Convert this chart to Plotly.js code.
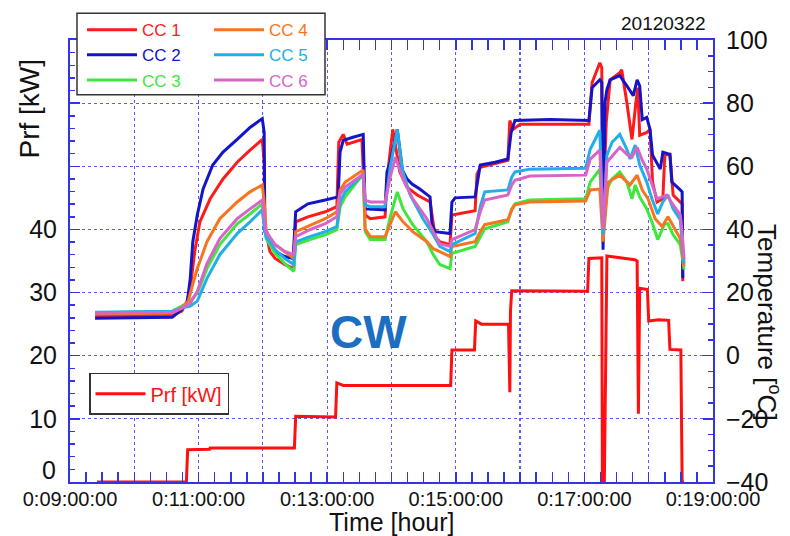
<!DOCTYPE html>
<html>
<head>
<meta charset="utf-8">
<script src="https://cdn.plot.ly/plotly-3.0.1.min.js"></script>
<style>html,body{margin:0;padding:0;background:#fff;}#chart{width:790px;height:536px;}</style>
</head>
<body>
<div id="chart"></div>
<script>
// ---- data: [time (hour), value] ----
const xTickVals = [9,10,11,12,13,14,15,16,17,18,19];
const xTickText = ['0:09:00:00','','0:11:00:00','','0:13:00:00','','0:15:00:00','','0:17:00:00','','0:19:00:00'];
const seriesNames = ['CC 1','CC 2','CC 3','CC 4','CC 5','CC 6'];

const cc1 = [[9.39,12.5],[10.59,12.8],[10.74,14.1],[10.82,17.3],[10.87,21.4],[10.94,33.0],[11.02,42.4],[11.18,49.7],[11.38,56.0],[11.60,61.3],[11.80,65.1],[11.99,68.5],[12.02,61.3],[12.03,40.9],[12.11,33.0],[12.19,30.8],[12.34,28.9],[12.48,27.6],[12.51,42.4],[12.70,44.0],[12.97,45.6],[13.15,47.2],[13.18,67.6],[13.25,70.1],[13.31,67.0],[13.40,67.6],[13.54,68.5],[13.59,44.6],[13.67,43.4],[13.90,44.0],[13.93,56.0],[14.02,71.7],[14.13,58.2],[14.24,53.4],[14.40,50.9],[14.60,48.7],[14.63,44.0],[14.68,37.7],[14.75,36.1],[14.91,35.2],[14.94,44.6],[15.30,45.9],[15.33,57.5],[15.38,59.7],[15.81,61.9],[15.84,74.5],[15.89,71.7],[16.00,73.3],[17.02,73.3],[17.07,73.3],[17.12,86.5],[17.18,89.6],[17.24,92.8],[17.27,91.2],[17.29,45.0],[17.34,73.9],[17.40,87.4],[17.55,89.6],[17.58,90.6],[17.66,80.2],[17.74,68.5],[17.80,80.0],[17.83,84.9],[17.86,69.8],[17.97,70.7],[18.02,71.7],[18.06,55.0],[18.13,48.7],[18.22,49.7],[18.25,63.5],[18.33,63.8],[18.38,50.9],[18.52,48.1],[18.53,23.6]];
const cc2 = [[9.39,11.9],[10.59,12.2],[10.71,14.1],[10.82,16.3],[10.87,24.5],[10.91,36.1],[10.98,44.6],[11.07,52.8],[11.22,60.4],[11.38,64.5],[11.60,68.5],[11.80,72.3],[11.99,75.1],[12.02,70.7],[12.03,39.3],[12.19,33.0],[12.34,31.4],[12.47,30.8],[12.51,45.6],[12.70,48.1],[12.97,49.3],[13.17,50.3],[13.20,64.5],[13.25,68.2],[13.40,69.2],[13.56,70.1],[13.59,46.5],[13.90,46.2],[13.93,58.2],[13.98,61.3],[14.09,71.7],[14.17,58.8],[14.24,56.0],[14.32,54.4],[14.44,52.8],[14.60,50.3],[14.63,41.5],[14.68,39.3],[14.91,38.7],[14.94,48.7],[14.99,50.0],[15.30,50.3],[15.35,56.6],[15.38,60.4],[15.61,61.3],[15.81,62.3],[15.86,70.7],[15.92,74.5],[16.47,74.8],[17.02,74.5],[17.07,74.5],[17.12,84.9],[17.24,87.4],[17.27,86.5],[17.29,33.6],[17.32,80.2],[17.35,84.3],[17.40,87.4],[17.55,88.7],[17.66,85.5],[17.76,82.4],[17.82,87.4],[17.86,85.5],[17.90,74.8],[17.97,75.5],[18.02,71.7],[18.06,63.5],[18.18,59.1],[18.22,64.5],[18.33,63.8],[18.36,55.0],[18.49,52.5],[18.52,51.9],[18.53,24.5]];
const cc3 = [[9.39,13.5],[10.59,14.1],[10.74,15.7],[10.87,17.3],[10.98,19.8],[11.13,27.6],[11.33,35.2],[11.60,41.8],[11.80,44.9],[11.99,48.1],[12.02,42.4],[12.05,37.1],[12.19,32.4],[12.34,29.2],[12.48,26.7],[12.51,35.2],[12.73,36.8],[12.97,38.3],[13.15,39.9],[13.20,47.2],[13.28,50.3],[13.56,57.5],[13.59,39.3],[13.67,36.8],[13.90,36.8],[13.98,44.0],[14.09,51.9],[14.18,46.5],[14.33,41.5],[14.55,36.1],[14.65,32.0],[14.75,28.9],[14.91,27.6],[14.94,32.4],[15.30,34.6],[15.38,37.7],[15.45,40.2],[15.81,42.4],[15.87,46.5],[15.92,48.1],[16.15,49.3],[17.02,49.7],[17.09,55.0],[17.24,59.1],[17.29,37.7],[17.35,52.8],[17.43,56.0],[17.55,58.2],[17.66,55.0],[17.74,49.7],[17.79,54.1],[17.86,50.3],[17.97,46.5],[18.05,42.4],[18.14,36.8],[18.25,41.8],[18.30,41.8],[18.38,38.3],[18.49,35.2],[18.52,31.4],[18.55,27.3]];
const cc4 = [[9.39,13.2],[10.59,13.5],[10.74,15.1],[10.84,17.3],[10.90,22.0],[10.98,27.6],[11.13,36.1],[11.33,43.4],[11.60,48.7],[11.80,51.9],[11.99,54.1],[12.02,48.7],[12.05,39.9],[12.11,37.1],[12.19,35.2],[12.34,33.0],[12.48,30.8],[12.51,39.3],[12.73,41.2],[12.97,43.4],[13.15,45.6],[13.20,52.5],[13.28,55.0],[13.56,58.8],[13.59,40.2],[13.67,37.7],[13.90,37.7],[13.98,41.8],[14.06,45.6],[14.18,42.4],[14.33,39.3],[14.55,36.1],[14.65,33.9],[14.75,33.0],[14.91,31.4],[14.94,34.6],[15.30,36.1],[15.38,39.3],[15.45,41.5],[15.81,43.1],[15.87,46.2],[15.92,47.8],[16.15,48.7],[17.02,49.0],[17.09,52.5],[17.24,52.8],[17.29,36.1],[17.37,55.0],[17.55,57.2],[17.71,54.1],[17.82,57.2],[17.90,52.5],[17.99,49.7],[18.10,43.4],[18.21,40.9],[18.30,44.0],[18.41,40.2],[18.49,37.1],[18.52,33.0],[18.55,28.3]];
const cc5 = [[9.39,13.8],[10.59,14.1],[10.74,15.1],[10.87,15.7],[10.98,17.3],[11.13,24.5],[11.33,32.0],[11.60,38.7],[11.80,42.4],[11.99,46.2],[12.02,40.9],[12.05,37.7],[12.19,33.6],[12.34,30.8],[12.48,28.9],[12.51,36.1],[12.73,37.7],[12.97,39.3],[13.15,40.9],[13.20,48.7],[13.28,51.9],[13.56,57.5],[13.59,47.8],[13.67,47.2],[13.90,47.2],[13.98,59.7],[14.09,71.7],[14.17,58.8],[14.29,50.9],[14.49,43.4],[14.65,38.3],[14.75,34.6],[14.91,33.0],[14.94,35.2],[15.30,38.7],[15.38,47.2],[15.45,51.9],[15.81,52.5],[15.87,56.6],[15.92,58.2],[16.15,59.1],[17.02,59.4],[17.09,65.4],[17.24,71.4],[17.29,38.3],[17.35,63.5],[17.43,67.6],[17.55,70.1],[17.66,65.4],[17.71,62.3],[17.79,66.7],[17.86,60.4],[17.97,55.0],[18.05,49.7],[18.14,44.9],[18.22,48.7],[18.30,50.9],[18.38,46.5],[18.49,43.1],[18.52,36.1],[18.55,29.2]];
const cc6 = [[9.39,13.5],[10.59,13.8],[10.74,15.1],[10.87,16.6],[10.98,20.4],[11.13,29.2],[11.33,37.1],[11.60,43.4],[11.80,46.5],[11.99,49.3],[12.02,44.0],[12.05,39.3],[12.19,35.2],[12.34,33.0],[12.48,32.0],[12.51,37.7],[12.73,39.9],[12.97,41.8],[13.15,44.0],[13.20,51.2],[13.28,53.4],[13.56,57.5],[13.59,49.3],[13.67,48.7],[13.90,48.7],[13.98,56.6],[14.06,62.9],[14.18,56.0],[14.33,49.7],[14.55,43.4],[14.65,39.3],[14.75,35.5],[14.91,34.6],[14.94,36.8],[15.30,39.9],[15.38,45.6],[15.45,49.3],[15.81,50.9],[15.87,54.1],[15.92,55.6],[16.15,56.9],[17.02,57.2],[17.09,62.3],[17.24,65.1],[17.29,40.2],[17.35,61.3],[17.55,66.0],[17.66,63.8],[17.74,62.9],[17.82,66.0],[17.90,61.9],[17.97,59.1],[18.13,49.7],[18.28,50.9],[18.38,47.8],[18.49,44.6],[18.52,39.3],[18.55,30.5]];
const prf = [[9.42,0],[10.81,0],[10.83,5.1],[11.17,5.2],[11.18,5.4],[12.49,5.4],[12.51,10.4],[13.13,10.3],[13.15,15.7],[13.25,15.3],[14.92,15.3],[14.94,20.9],[15.29,20.9],[15.31,25.5],[15.40,25.0],[15.82,25.0],[15.84,14.2],[15.85,27.0],[15.87,30.3],[17.05,30.2],[17.07,35.4],[17.27,35.5],[17.28,0],[17.31,0],[17.35,35.8],[17.78,35.2],[17.82,35.0],[17.84,10.8],[17.86,30.7],[17.98,30.5],[18.00,25.5],[18.15,25.7],[18.31,25.6],[18.33,21.0],[18.50,20.9],[18.52,0],[18.55,0]];

// ---- styles ----
const FONT = 'Liberation Sans, Arial, Helvetica, sans-serif';
const AX = '#3434e0';
const GRID = '#5a5aff';
const colors = ['#ff1a1a','#1414c8','#3ee63e','#f77420','#22aee8','#d964c8'];
const ccData = [cc1, cc2, cc3, cc4, cc5, cc6];
const legendOf = ['legend','legend','legend','legend2','legend2','legend2'];

const data = ccData.map((d, i) => ({
  type: 'scatter', mode: 'lines',
  x: d.map(p => p[0]), y: d.map(p => p[1]),
  yaxis: 'y2',
  name: '<span style="color:' + colors[i] + '">' + seriesNames[i] + '</span>',
  line: {color: colors[i], width: 3},
  legend: legendOf[i]
}));
data.push({
  type: 'scatter', mode: 'lines',
  x: prf.map(p => p[0]), y: prf.map(p => p[1]),
  yaxis: 'y',
  name: 'Prf [kW]',
  line: {color: '#ff1010', width: 3},
  legend: 'legend3'
});

const px2x = px => (px - 70) / 643;
const py2y = py => (482 - py) / 445;

const layout = {
  width: 790, height: 536,
  margin: {l: 70, r: 77, t: 37, b: 54, pad: 0},
  paper_bgcolor: '#ffffff', plot_bgcolor: '#ffffff',
  font: {family: FONT, color: '#111111'},
  showlegend: true,
  xaxis: {
    range: [9, 19], tickmode: 'array', tickvals: xTickVals, ticktext: xTickText,
    ticks: 'inside', ticklen: 10, tickwidth: 1.5, tickcolor: AX,
    showline: true, linecolor: AX, linewidth: 2, mirror: 'allticks',
    showgrid: true, gridcolor: GRID, griddash: 'dot', gridwidth: 1.2, zeroline: false,
    minor: {tickmode: 'linear', tick0: 9, dtick: 0.25, ticks: 'inside', ticklen: 5, tickwidth: 1.5, tickcolor: AX, showgrid: false},
    tickfont: {family: FONT, size: 20, color: '#111'},
    ticklabelstandoff: -2
  },
  yaxis: {
    range: [0, 70], tickmode: 'array', tickvals: [0,10,20,30,40,50,60,70],
    ticktext: ['', '10', '20', '30', '40', '', '', ''],
    ticks: 'inside', ticklen: 10, tickwidth: 1.5, tickcolor: AX,
    showline: true, linecolor: AX, linewidth: 2, mirror: false,
    showgrid: true, gridcolor: GRID, griddash: 'dot', gridwidth: 1.2, zeroline: false,
    minor: {tickmode: 'linear', tick0: 0, dtick: 2, ticks: 'inside', ticklen: 5, tickwidth: 1.5, tickcolor: AX, showgrid: false},
    tickfont: {family: FONT, size: 25, color: '#111'},
    ticklabelstandoff: 6
  },
  yaxis2: {
    range: [-40, 100], overlaying: 'y', side: 'right', tickmode: 'array',
    tickvals: [-40,-20,0,20,40,60,80,100],
    ticks: 'inside', ticklen: 10, tickwidth: 1.5, tickcolor: AX,
    showline: true, linecolor: AX, linewidth: 2,
    showgrid: false, zeroline: false,
    minor: {tickmode: 'linear', tick0: -40, dtick: 5, ticks: 'inside', ticklen: 5, tickwidth: 1.5, tickcolor: AX, showgrid: false},
    tickfont: {family: FONT, size: 25, color: '#111'},
    ticklabelstandoff: 6
  },
  legend: {
    x: px2x(82), y: py2y(9), xanchor: 'left', yanchor: 'top',
    bgcolor: 'rgba(0,0,0,0)', borderwidth: 0, itemwidth: 50,
    font: {family: FONT, size: 17}, tracegroupgap: 0
  },
  legend2: {
    x: px2x(209), y: py2y(9), xanchor: 'left', yanchor: 'top',
    bgcolor: 'rgba(0,0,0,0)', borderwidth: 0, itemwidth: 50,
    font: {family: FONT, size: 17}, tracegroupgap: 0
  },
  legend3: {
    x: px2x(89), y: py2y(372), xanchor: 'left', yanchor: 'top',
    bgcolor: '#ffffff', bordercolor: '#333333', borderwidth: 1.5, itemwidth: 50,
    font: {family: FONT, size: 20, color: '#ff1010'}
  },
  shapes: [
    {type: 'rect', xref: 'paper', yref: 'paper', x0: px2x(77), x1: px2x(325), y0: py2y(92), y1: py2y(10),
     fillcolor: '#ffffff', line: {color: '#333333', width: 1.5}, layer: 'above'}
  ],
  annotations: [
    {xref: 'paper', yref: 'y', x: px2x(58), y: 0, yshift: 12, xanchor: 'right', yanchor: 'middle',
     text: '0', showarrow: false, font: {family: FONT, size: 25, color: '#111'}},
    {xref: 'paper', yref: 'paper', x: 0.5, y: py2y(522), xanchor: 'center', yanchor: 'middle',
     text: 'Time [hour]', showarrow: false, font: {family: FONT, size: 25, color: '#111'}},
    {xref: 'paper', yref: 'paper', x: px2x(30), y: py2y(106), xanchor: 'center', yanchor: 'middle',
     text: 'Prf [kW]', textangle: -90, showarrow: false, font: {family: FONT, size: 28, color: '#111'}},
    {xref: 'paper', yref: 'paper', x: px2x(769), y: py2y(322), xanchor: 'center', yanchor: 'middle',
     text: 'Temperature [<sup>o</sup>C]', textangle: 90, showarrow: false, font: {family: FONT, size: 26, color: '#111'}},
    {xref: 'paper', yref: 'paper', x: px2x(708), y: py2y(20), xanchor: 'right', yanchor: 'middle',
     text: '20120322', showarrow: false, font: {family: FONT, size: 19, color: '#111'}},
    {xref: 'paper', yref: 'paper', x: px2x(368), y: py2y(331), xanchor: 'center', yanchor: 'middle',
     text: '<b>CW</b>', showarrow: false, font: {family: FONT, size: 46, color: '#1b6ec2'}}
  ]
};

Plotly.newPlot('chart', data, layout, {displayModeBar: false, staticPlot: true});
</script>
</body>
</html>
